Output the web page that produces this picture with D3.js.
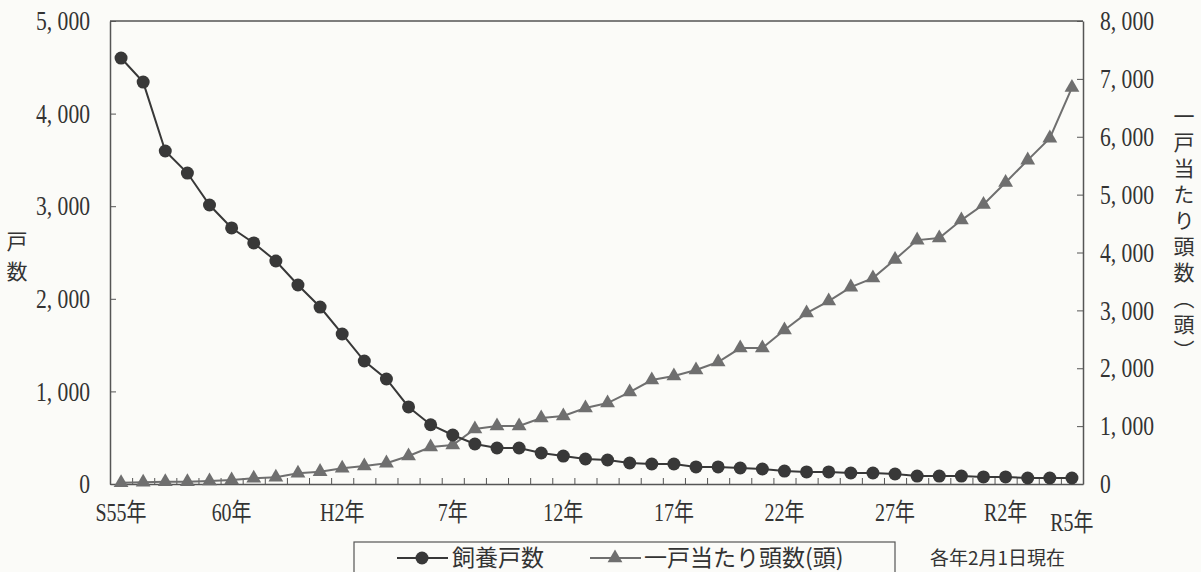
<!DOCTYPE html>
<html><head><meta charset="utf-8">
<script src="https://cdn.jsdelivr.net/npm/d3@7"></script>
<style>
html,body{margin:0;padding:0;background:#fbfbf8;}
svg{display:block;}
.num{font-family:"Liberation Serif","Noto Sans CJK JP",serif;font-size:27px;fill:#333;}
.cond{transform-box:fill-box;transform:scaleX(0.8);}
.jp{font-family:"Noto Sans CJK JP",sans-serif;fill:#333;}
.vt{writing-mode:vertical-rl;text-orientation:upright;}
</style></head>
<body>
<svg id="c" width="1201" height="572"></svg>
<script>
// ---- data ----
const categories = ["S55","S56","S57","S58","S59","S60","S61","S62","S63","H1",
  "H2","H3","H4","H5","H6","H7","H8","H9","H10","H11",
  "H12","H13","H14","H15","H16","H17","H18","H19","H20","H21",
  "H22","H23","H24","H25","H26","H27","H28","H29","H30","R1",
  "R2","R3","R4","R5"];
const households = [4600,4340,3596,3358,3013,2765,2603,2408,2149,1911,
  1620,1328,1134,832,640,529,432,389,389,335,
  302,270,259,227,216,216,184,184,173,162,
  140,130,130,119,119,108,86,86,86,76,
  76,65,65,65];
const perHousehold = [22,29,40,40,52,69,98,115,185,213,
  272,311,360,484,639,674,950,1002,1002,1140,
  1174,1313,1399,1589,1796,1865,1969,2107,2349,2349,
  2660,2953,3161,3402,3558,3880,4214,4249,4560,4830,
  5210,5596,5976,6850];
const tickIndex = [0,5,10,15,20,25,30,35,40,43];
const tickLabels = ["S55年","60年","H2年","7年","12年","17年","22年","27年","R2年","R5年"];
const leftTicks = [0,1000,2000,3000,4000,5000];
const rightTicks = [0,1000,2000,3000,4000,5000,6000,7000,8000];
const seriesNames = ["飼養戸数","一戸当たり頭数(頭)"];
const leftTitle = "戸数";
const rightTitle = "一戸当たり頭数︵頭︶";
const note = "各年2月1日現在";

// ---- layout ----
const L = 110, R = 1083, T = 21, B = 484;
const svg = d3.select("#c");
const x = d3.scaleBand().domain(d3.range(categories.length)).range([L, R]);
const xEdge = d3.scaleLinear().domain([0, categories.length]).range([L, R]);
const cx = i => x(i) + x.bandwidth() / 2;
const yL = d3.scaleLinear().domain([0, 5000]).range([B, T]);
const yR = d3.scaleLinear().domain([0, 8000]).range([B, T]);
const fmt = v => d3.format(",")(v).replace(",", ", ");
const axisColor = "#555";

// frame top
svg.append("line").attr("x1", L).attr("x2", R).attr("y1", T).attr("y2", T)
  .attr("stroke", axisColor).attr("stroke-width", 1.5);

// bottom axis (minor ticks at band edges, inward)
const gx = svg.append("g").attr("transform", `translate(0,${B})`)
  .call(d3.axisBottom(xEdge).tickValues(d3.range(1, categories.length)).tickSize(-6).tickSizeOuter(0).tickFormat(""));
gx.select(".domain").attr("stroke", axisColor).attr("stroke-width", 1.5);
gx.selectAll(".tick line").attr("stroke", axisColor).attr("stroke-width", 1);

// x labels
svg.append("g").selectAll("text").data(tickIndex).join("text")
  .attr("class", "num cond")
  .style("transform-origin", "center")
  .attr("x", d => cx(d))
  .attr("y", (d, i) => i === tickIndex.length - 1 ? B + 38 : B + 28)
  .attr("dy", "0.35em")
  .attr("text-anchor", "middle")
  .style("font-size", "25px")
  .text((d, i) => tickLabels[i]);

// left axis
const gl = svg.append("g").attr("transform", `translate(${L},0)`)
  .call(d3.axisLeft(yL).tickValues(leftTicks).tickSizeInner(-6).tickSizeOuter(0).tickPadding(20).tickFormat(fmt));
gl.select(".domain").attr("stroke", axisColor).attr("stroke-width", 1.5);
gl.selectAll(".tick line").attr("stroke", axisColor);
gl.selectAll(".tick text").attr("class", "num cond").style("transform-origin", "right center")
  .attr("fill", null);
gl.attr("font-family", null).attr("font-size", null);

// right axis
const gr = svg.append("g").attr("transform", `translate(${R},0)`)
  .call(d3.axisRight(yR).tickValues(rightTicks).tickSizeInner(-6).tickSizeOuter(0).tickPadding(17).tickFormat(fmt));
gr.select(".domain").attr("stroke", axisColor).attr("stroke-width", 1.5);
gr.selectAll(".tick line").attr("stroke", axisColor);
gr.selectAll(".tick text").attr("class", "num cond").style("transform-origin", "left center")
  .attr("fill", null);
gr.attr("font-family", null).attr("font-size", null);

// axis titles (vertical)
svg.append("text").attr("class", "jp vt").attr("x", 17).attr("y", 231)
  .style("font-size", "21px").style("letter-spacing", "9px").text(leftTitle);
svg.append("text").attr("class", "jp vt").attr("x", 1184).attr("y", 106)
  .style("font-size", "21px").style("letter-spacing", "5px").text(rightTitle);

// series: per household (triangles)
const triColor = "#6f6f6f";
svg.append("path").datum(perHousehold)
  .attr("fill", "none").attr("stroke", triColor).attr("stroke-width", 2)
  .attr("d", d3.line().x((d, i) => cx(i)).y(d => yR(d)));
svg.append("g").selectAll("path").data(perHousehold).join("path")
  .attr("transform", (d, i) => `translate(${cx(i)},${yR(d)})`)
  .attr("d", d3.symbol(d3.symbolTriangle, 95))
  .attr("fill", triColor);

// series: households (circles)
const cirColor = "#383838";
svg.append("path").datum(households)
  .attr("fill", "none").attr("stroke", cirColor).attr("stroke-width", 2)
  .attr("d", d3.line().x((d, i) => cx(i)).y(d => yL(d)));
svg.append("g").selectAll("circle").data(households).join("circle")
  .attr("cx", (d, i) => cx(i)).attr("cy", d => yL(d)).attr("r", 6.5)
  .attr("fill", cirColor);

// legend
const lg = svg.append("g");
lg.append("rect").attr("x", 354).attr("y", 542).attr("width", 541).attr("height", 60)
  .attr("fill", "none").attr("stroke", axisColor).attr("stroke-width", 1.2);
const ly = 558;
lg.append("line").attr("x1", 397).attr("x2", 448).attr("y1", ly).attr("y2", ly).attr("stroke", cirColor).attr("stroke-width", 2);
lg.append("circle").attr("cx", 422).attr("cy", ly).attr("r", 6.5).attr("fill", cirColor);
lg.append("text").attr("class", "jp").attr("x", 452).attr("y", ly).attr("dy", "0.35em").style("font-size", "23px").text(seriesNames[0]);
lg.append("line").attr("x1", 590).attr("x2", 641).attr("y1", ly).attr("y2", ly).attr("stroke", triColor).attr("stroke-width", 2);
lg.append("path").attr("transform", `translate(615,${ly})`).attr("d", d3.symbol(d3.symbolTriangle, 95)).attr("fill", triColor);
lg.append("text").attr("class", "jp").attr("x", 644).attr("y", ly).attr("dy", "0.35em").style("font-size", "23px").text(seriesNames[1]);

svg.append("text").attr("class", "jp").attr("x", 930).attr("y", ly).attr("dy", "0.35em").style("font-size", "19px").text(note);
</script>
</body></html>
